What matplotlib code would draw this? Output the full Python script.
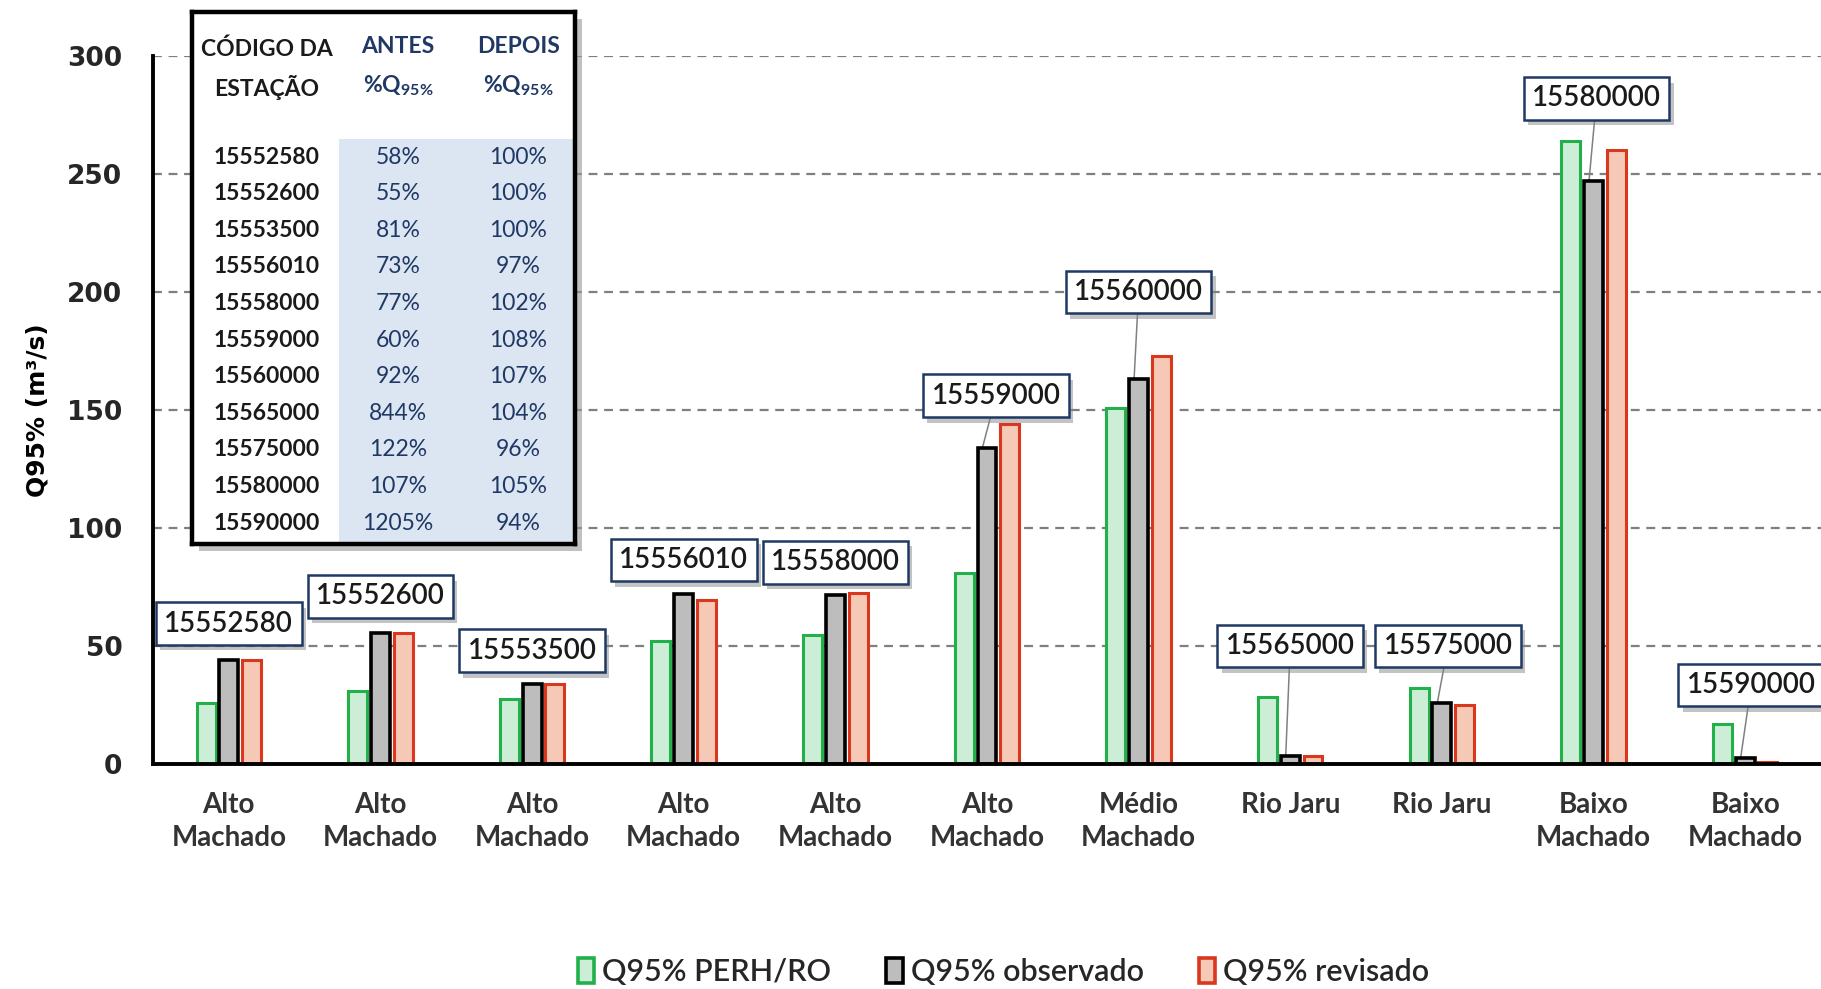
import numpy as np
import matplotlib
matplotlib.use("Agg")
import matplotlib.pyplot as plt
from matplotlib.patches import Patch, Rectangle
import matplotlib.patheffects as pe

plt.rcParams['font.family'] = ['Lato', 'DejaVu Sans']
plt.rcParams['mathtext.fontset'] = 'custom'
plt.rcParams['mathtext.rm'] = 'Lato'
plt.rcParams['mathtext.bf'] = 'Lato:bold'

# Dados
categorias = ["Alto\nMachado", "Alto\nMachado", "Alto\nMachado", "Alto\nMachado", "Alto\nMachado",
              "Alto\nMachado", "Médio\nMachado", "Rio Jaru", "Rio Jaru", "Baixo\nMachado", "Baixo\nMachado"]
estacoes = ["15552580", "15552600", "15553500", "15556010", "15558000", "15559000",
            "15560000", "15565000", "15575000", "15580000", "15590000"]
q95_perh = [26, 31, 27.5, 52, 54.5, 81, 151, 28.5, 32, 264, 17]
q95_obs = [44, 55.5, 34, 72, 71.5, 134, 163, 3.3, 26, 247, 2.5]
q95_rev = [44, 55.5, 34, 69.5, 72.5, 144, 173, 3.3, 25, 260, 1.0]
antes = ["58%", "55%", "81%", "73%", "77%", "60%", "92%", "844%", "122%", "107%", "1205%"]
depois = ["100%", "100%", "100%", "97%", "102%", "108%", "107%", "104%", "96%", "105%", "94%"]

# posição dos rótulos (layout)
rotulo_y = [59.5, 71, 48, 86.5, 85.5, 156, 200, 50, 50, 282, 33.5]
rotulo_dx = [0, 0, 0, 0, 0, 0.06, 0, 0.0, 0.04, 0.02, 0.04]
com_linha = [False, False, False, False, False, True, True, True, True, True, True]

navy = '#1f3864'
verde, verde_f = '#22b04b', '#cdeed6'
cinza_f = '#bdbdbd'
verm, verm_f = '#d9381e', '#f6c8b6'

fig = plt.figure(figsize=(18.21, 9.89), dpi=100)
ax = fig.add_axes([0.084, 0.2275, 0.916, 0.7159])

x = np.arange(len(categorias))
w = 0.125
ax.bar(x - 0.15, q95_perh, w, facecolor=verde_f, edgecolor=verde, linewidth=2.2, zorder=2)
ax.bar(x, q95_obs, w, facecolor=cinza_f, edgecolor='black', linewidth=2.6, zorder=2)
ax.bar(x + 0.15, q95_rev, w, facecolor=verm_f, edgecolor=verm, linewidth=2.2, zorder=2)

ax.set_xlim(-0.5, 10.5)
ax.set_ylim(0, 300)
ax.set_yticks(np.arange(0, 301, 50))
ax.yaxis.grid(True, linestyle=(0, (4, 3)), color='#7f7f7f', linewidth=1.6)
ax.set_axisbelow(True)
for s in ['top', 'right']:
    ax.spines[s].set_visible(False)
ax.spines['left'].set_linewidth(2.8)
ax.spines['bottom'].set_linewidth(2.8)
ax.set_xticks(x)
ax.set_xticklabels(categorias, fontsize=20, fontweight='bold', color='#333333', linespacing=1.35)
ax.tick_params(axis='x', length=0, pad=20)
ax.tick_params(axis='y', length=0, pad=22)
for lb in ax.get_yticklabels():
    lb.set_fontfamily('DejaVu Sans')
    lb.set_fontweight('bold')
    lb.set_fontsize(19)
    lb.set_color('#262626')
ax.set_ylabel("Q95% (m³/s)", fontsize=18, fontweight='bold', family='DejaVu Sans')
ax.yaxis.set_label_coords(-0.062, 0.5)

# rótulos das estações
for i, est in enumerate(estacoes):
    lx = x[i] + rotulo_dx[i]
    if com_linha[i]:
        ax.plot([lx, x[i] - 0.03], [rotulo_y[i], q95_obs[i]], color='#808080', lw=1.1, zorder=1.5)
    t = ax.text(lx, rotulo_y[i], est, ha='center', va='center', fontsize=20, fontweight='semibold',
                color='#1a1a1a', zorder=6, clip_on=False,
                bbox=dict(boxstyle='square,pad=0.3', facecolor='white', edgecolor=navy, linewidth=1.8))
    t.get_bbox_patch().set_path_effects([pe.withSimplePatchShadow(offset=(3, -4), shadow_rgbFace='#888888', alpha=0.5)])

# tabela
sh = Rectangle((0.1054 + 0.004, 0.45 - 0.007), 0.2103, 0.538, transform=fig.transFigure,
               facecolor='#999999', alpha=0.6, zorder=4)
fig.patches.append(sh)
tab = fig.add_axes([0.1054, 0.45, 0.2103, 0.538], zorder=5)
tab.set_xlim(0, 1)
tab.set_ylim(0, 1)
tab.set_xticks([])
tab.set_yticks([])
for s in tab.spines.values():
    s.set_linewidth(3.2)
tab.add_patch(Rectangle((0.385, 0.0), 0.615, 0.762, facecolor='#dce6f2', edgecolor='none'))
tab.text(0.196, 0.930, "CÓDIGO DA", ha='center', va='center', fontsize=16.5, fontweight='bold', color='#1a1a1a')
tab.text(0.196, 0.857, "ESTAÇÃO", ha='center', va='center', fontsize=16.5, fontweight='bold', color='#1a1a1a')
tab.text(0.538, 0.935, "ANTES", ha='center', va='center', fontsize=16.5, fontweight='bold', color=navy)
tab.text(0.852, 0.935, "DEPOIS", ha='center', va='center', fontsize=16.5, fontweight='bold', color=navy)
sub = r"%Q$_{\mathbf{95\%}}$"
tab.text(0.538, 0.862, sub, ha='center', va='center', fontsize=16.5, fontweight='bold', color=navy)
tab.text(0.852, 0.862, sub, ha='center', va='center', fontsize=16.5, fontweight='bold', color=navy)
ys = np.linspace(0.727, 0.039, len(estacoes))
for i in range(len(estacoes)):
    tab.text(0.196, ys[i], estacoes[i], ha='center', va='center', fontsize=16.5, fontweight='bold', color='#1a1a1a')
    tab.text(0.538, ys[i], antes[i], ha='center', va='center', fontsize=16.5, color=navy)
    tab.text(0.852, ys[i], depois[i], ha='center', va='center', fontsize=16.5, color=navy)

# legenda
handles = [Patch(facecolor=verde_f, edgecolor=verde, linewidth=2.6, label='Q95% PERH/RO'),
           Patch(facecolor=cinza_f, edgecolor='black', linewidth=2.6, label='Q95% observado'),
           Patch(facecolor=verm_f, edgecolor=verm, linewidth=2.6, label='Q95% revisado')]
leg = fig.legend(handles=handles, loc='center', bbox_to_anchor=(0.551, 0.017), ncol=3, frameon=False,
                 fontsize=22, handlelength=0.55, handleheight=0.9, handletextpad=0.25, columnspacing=1.8,
                 labelcolor='#262626')
for tx in leg.get_texts():
    tx.set_fontweight('semibold')

fig.savefig("out.png", dpi=100)
